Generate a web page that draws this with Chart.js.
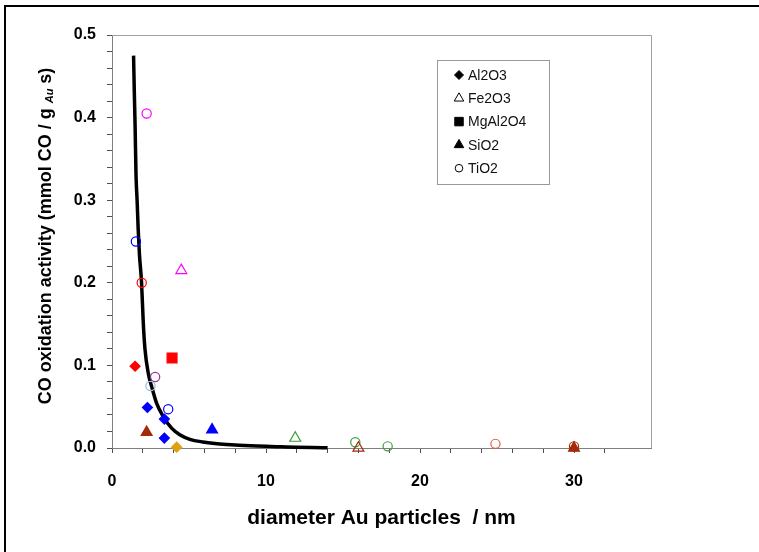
<!DOCTYPE html>
<html>
<head>
<meta charset="utf-8">
<script src="https://cdn.jsdelivr.net/npm/chart.js@4.4.1/dist/chart.umd.min.js"></script>
<style>
  html, body { margin: 0; padding: 0; background: #fff; }
  #wrap { position: relative; width: 759px; height: 552px; }
</style>
</head>
<body>
<div id="wrap"><canvas id="activityChart"></canvas></div>
<script>
// supports, in legend order
var supports = ['Al2O3', 'Fe2O3', 'MgAl2O4', 'SiO2', 'TiO2'];

// diameter (nm) / activity (mmol CO / g Au s) per support
var al2o3X = [1.5, 2.3, 3.4, 3.4, 4.2];
var al2o3Y = [0.099, 0.049, 0.035, 0.012, 0.001];
var al2o3Colors = ['#FF0000', '#0000FF', '#0000FF', '#0000FF', '#E0A010'];

var fe2o3X = [4.5, 11.9, 16];
var fe2o3Y = [0.215, 0.012, 0.0];
var fe2o3Colors = ['#FF00FF', '#3C9C3C', '#A52A0A'];

var mgal2o4X = [3.9];
var mgal2o4Y = [0.109];
var mgal2o4Colors = ['#FF0000'];

var sio2X = [2.25, 6.5, 30];
var sio2Y = [0.019, 0.022, 0.0];
var sio2Colors = ['#A52A0A', '#0000FF', '#A52A0A'];

var tio2X = [2.25, 1.55, 1.93, 2.8, 2.5, 3.65, 15.8, 17.9, 24.9, 30];
var tio2Y = [0.405, 0.25, 0.2, 0.086, 0.075, 0.047, 0.007, 0.002, 0.005, 0.002];
var tio2Colors = ['#FF00FF', '#0000FF', '#FF0000', '#993399', '#99BBDD', '#0000FF', '#3C9C3C', '#3C9C3C', '#E06040', '#A52A0A'];

// trend line through the points
var fitX = [1.4, 1.45, 1.5, 1.56, 1.63, 1.7, 1.78, 1.92, 2.03, 2.14, 2.36, 2.58, 2.9, 3.33, 3.87, 4.4, 5.06, 5.9, 7.0, 8, 9, 10, 11, 12, 13, 14];
var fitY = [0.475, 0.43, 0.39, 0.33, 0.30, 0.265, 0.235, 0.2, 0.152, 0.12, 0.09, 0.074, 0.054, 0.038, 0.024, 0.016, 0.0105, 0.0073, 0.0048, 0.0035, 0.0028, 0.002, 0.0015, 0.001, 0.0006, 0.0003];

var xTicks = [0, 10, 20, 30];
var yTicks = [0.0, 0.1, 0.2, 0.3, 0.4, 0.5];

function toPoints(xs, ys){
    return xs.map(function(x, i){ return {x: x, y: ys[i]}; });
}

function markerSet(label, xs, ys, colors, style, radius, filled){
    return {
        label: label,
        type: 'scatter',
        data: toPoints(xs, ys),
        pointStyle: style,
        pointRadius: radius,
        pointHoverRadius: radius,
        pointBorderWidth: 1.2,
        borderColor: colors,
        backgroundColor: filled ? colors : 'rgba(255,255,255,0)',
        showLine: false,
        clip: false,
        order: 0
    };
}

// legend drawn inside the plot, markers in black
var legendStyles = [
    {style: 'rectRot', radius: 4.5, filled: true},
    {style: 'triangle', radius: 5.5, filled: false},
    {style: 'rect', radius: 6, filled: true},
    {style: 'triangle', radius: 5.5, filled: true},
    {style: 'circle', radius: 3.8, filled: false}
];

var boxLegend = {
    id: 'boxLegend',
    afterDatasetsDraw: function(chart){
        var ctx = chart.ctx;
        ctx.save();
        ctx.strokeStyle = '#999';
        ctx.lineWidth = 1;
        ctx.strokeRect(437.5, 60.5, 112, 124);
        ctx.font = '14px "Liberation Sans", Arial, sans-serif';
        ctx.textBaseline = 'middle';
        supports.forEach(function(name, i){
            var y = 75 + i * 23.3;
            var s = legendStyles[i];
            ctx.fillStyle = s.filled ? '#000' : '#fff';
            ctx.strokeStyle = '#000';
            ctx.lineWidth = 1;
            Chart.helpers.drawPoint(ctx, {pointStyle: s.style, radius: s.radius, borderWidth: 1, rotation: 0}, 459, y);
            ctx.fillStyle = '#111';
            ctx.fillText(name, 468, y + 1);
        });
        ctx.restore();
    }
};

// plot frame, outer frame and the rotated y title with the Au subscript
var frames = {
    id: 'frames',
    beforeDatasetsDraw: function(chart){
        var a = chart.chartArea;
        var ctx = chart.ctx;
        ctx.save();
        ctx.strokeStyle = '#A0A0A0';
        ctx.lineWidth = 1;
        ctx.beginPath();
        ctx.moveTo(a.left, a.top + 0.5);
        ctx.lineTo(a.right + 0.5, a.top + 0.5);
        ctx.lineTo(a.right + 0.5, a.bottom);
        ctx.stroke();
        ctx.restore();
    },
    afterDraw: function(chart){
        var ctx = chart.ctx;
        ctx.save();
        ctx.strokeStyle = '#000';
        ctx.lineWidth = 2;
        ctx.beginPath();
        ctx.moveTo(5, 552);
        ctx.lineTo(5, 6);
        ctx.lineTo(759, 6);
        ctx.stroke();

        var main = 'bold 18px "Liberation Sans", Arial, sans-serif';
        var sub = 'bold italic 11px "Liberation Sans", Arial, sans-serif';
        var parts = [
            {t: 'CO oxidation activity (mmol CO / g ', f: main, dy: 0},
            {t: 'Au', f: sub, dy: 4},
            {t: ' s)', f: main, dy: 0}
        ];
        var total = 0;
        parts.forEach(function(p){ ctx.font = p.f; p.w = ctx.measureText(p.t).width; total += p.w; });
        ctx.translate(46, 236);
        ctx.rotate(-Math.PI / 2);
        ctx.fillStyle = '#000';
        ctx.textBaseline = 'middle';
        var x = -total / 2;
        parts.forEach(function(p){
            ctx.font = p.f;
            ctx.fillText(p.t, x, p.dy);
            x += p.w;
        });
        ctx.restore();
    }
};

const config = {
    type: 'scatter',
    data: {
        datasets: [
            markerSet(supports[0], al2o3X, al2o3Y, al2o3Colors, 'rectRot', 5, true),
            markerSet(supports[1], fe2o3X, fe2o3Y, fe2o3Colors, 'triangle', 6.3, false),
            markerSet(supports[2], mgal2o4X, mgal2o4Y, mgal2o4Colors, 'rect', 7, true),
            markerSet(supports[3], sio2X, sio2Y, sio2Colors, 'triangle', 6.3, true),
            markerSet(supports[4], tio2X, tio2Y, tio2Colors, 'circle', 4.6, false),
            {
                label: 'fit',
                type: 'line',
                data: toPoints(fitX, fitY),
                borderColor: '#000',
                borderWidth: 3.5,
                pointRadius: 0,
                fill: false,
                cubicInterpolationMode: 'monotone',
                clip: false,
                order: 1
            }
        ]
    },
    options: {
        responsive: false,
        animation: false,
        layout: { padding: { left: 0, top: 35, right: 108, bottom: 0 } },
        plugins: {
            legend: { display: false },
            tooltip: { enabled: false }
        },
        scales: {
            x: {
                type: 'linear',
                min: 0,
                max: 35,
                afterFit: function(scale){ scale.height = 104; },
                afterBuildTicks: function(scale){
                    scale.ticks = scale.ticks.filter(function(t){ return t.value <= 34; });
                },
                grid: { drawOnChartArea: false, tickLength: 5, color: '#505050' },
                border: { color: '#808080', width: 1 },
                ticks: {
                    stepSize: 2,
                    autoSkip: false,
                    maxRotation: 0,
                    padding: 19,
                    color: '#000',
                    font: { family: '"Liberation Sans", Arial, sans-serif', size: 16, weight: 'bold' },
                    callback: function(v){ return xTicks.indexOf(v) >= 0 ? String(v) : ''; }
                },
                title: {
                    display: true,
                    text: 'diameter Au particles  / nm',
                    color: '#000',
                    padding: { top: 0, bottom: 21 },
                    font: { family: '"Liberation Sans", Arial, sans-serif', size: 21, weight: 'bold' }
                }
            },
            y: {
                type: 'linear',
                min: 0,
                max: 0.5,
                afterFit: function(scale){ scale.width = 112; },
                grid: { drawOnChartArea: false, tickLength: 5, color: '#505050' },
                border: { color: '#808080', width: 1 },
                ticks: {
                    stepSize: 0.02,
                    autoSkip: false,
                    padding: 11,
                    color: '#000',
                    font: { family: '"Liberation Sans", Arial, sans-serif', size: 16, weight: 'bold' },
                    callback: function(v){
                        var hit = yTicks.filter(function(t){ return Math.abs(t - v) < 1e-6; });
                        return hit.length ? hit[0].toFixed(1) : '';
                    }
                }
            }
        }
    },
    plugins: [frames, boxLegend]
};

var canvas = document.getElementById('activityChart');
canvas.width = 759;
canvas.height = 552;
var activityChart = new Chart(canvas, config);
</script>
</body>
</html>
